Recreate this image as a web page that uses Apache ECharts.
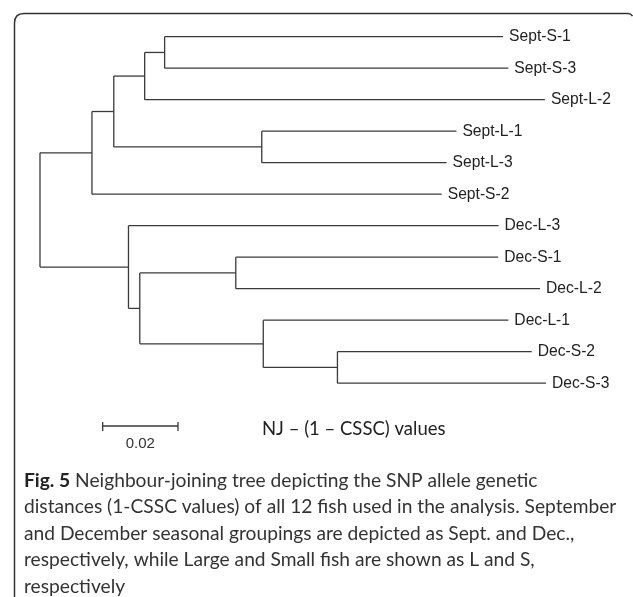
<!DOCTYPE html>
<html>
<head>
<meta charset="utf-8">
<script src="https://cdn.jsdelivr.net/npm/echarts@6/dist/echarts.min.js"></script>
<style>html,body{margin:0;padding:0;background:#fff;}#chart{width:633px;height:597px;}</style>
</head>
<body>
<div id="chart"></div>
<script>
// ---- Data ----
const leafNames = ['Sept-S-1','Sept-S-3','Sept-L-2','Sept-L-1','Sept-L-3','Sept-S-2','Dec-L-3','Dec-S-1','Dec-L-2','Dec-L-1','Dec-S-2','Dec-S-3'];
const internalIds = ['root','Sept','nA','nB','nC','nD','Dec','nF','nG','nH','nI'];
const internalParents = [null,'root','Sept','nA','nB','nA','root','Dec','nF','nF','nH'];
const internalLengths = [0,0.0138,0.0058,0.0082,0.0053,0.0393,0.0235,0.0030,0.0255,0.0328,0.0197];
const leafParents = ['nC','nC','nB','nD','nD','Sept','Dec','nG','nG','nH','nI','nI'];
const leafLengths = [0.0899,0.0913,0.1063,0.0517,0.0491,0.0929,0.0983,0.0697,0.0808,0.0651,0.0516,0.0554];
const scaleBarLength = 0.02;
const scaleBarLabel = '0.02';
const treeTitle = 'NJ \u2013 (1 \u2013 CSSC) values';
const captionBold = 'Fig. 5';
const captionLines = [
  ' Neighbour-joining tree depicting the SNP allele genetic',
  'distances (1-CSSC values) of all 12 fish used in the analysis. September',
  'and December seasonal groupings are depicted as Sept. and Dec.,',
  'respectively, while Large and Small fish are shown as L and S,',
  'respectively'
];

// ---- Build tree geometry (data units) ----
const nodes = {};
internalIds.forEach((id,i)=>{ nodes[id] = {id, parent: internalParents[i], len: internalLengths[i], leaf:false, children:[]}; });
leafNames.forEach((id,i)=>{ nodes[id] = {id, parent: leafParents[i], len: leafLengths[i], leaf:true, children:[], y:i}; });
Object.values(nodes).forEach(n=>{ if(n.parent) nodes[n.parent].children.push(n); });
function setX(n, px){ n.x = px + n.len; n.children.forEach(c=>setX(c, n.x)); }
setX(nodes.root, 0);
function setY(n){ if(n.leaf) return n.y; const ys = n.children.map(setY); n.yMin=Math.min(...ys); n.yMax=Math.max(...ys); n.y=(n.yMin+n.yMax)/2; return n.y; }
setY(nodes.root);
const treeData = Object.values(nodes).map(n=>[
  n.x, n.y, n.parent ? nodes[n.parent].x : n.x,
  n.leaf ? n.y : n.yMin, n.leaf ? n.y : n.yMax, n.leaf ? 1 : 0
]);
const treeNames = Object.values(nodes).map(n=>n.id);

const LINE = '#3a3a3a';
const CAP_FONT = '19.2px Lato, sans-serif';
const chart = echarts.init(document.getElementById('chart'), null, {renderer:'canvas'});
chart.setOption({
  animation:false,
  backgroundColor:'#fff',
  grid:{left:40, width:564.75, top:36.7, height:346.5},
  xAxis:{type:'value', min:0, max:0.15, show:false},
  yAxis:{type:'value', min:0, max:11, inverse:true, show:false},
  series:[{
    type:'custom',
    coordinateSystem:'cartesian2d',
    data: treeData,
    encode:{x:0, y:1},
    renderItem:function(params, api){
      const x = api.value(0), y = api.value(1), px = api.value(2);
      const y0 = api.value(3), y1 = api.value(4), leaf = api.value(5);
      const name = treeNames[params.dataIndex];
      const p = api.coord([x,y]), pp = api.coord([px,y]);
      const children = [];
      if (px !== x) children.push({type:'line', shape:{x1:pp[0],y1:pp[1],x2:p[0],y2:p[1]}, style:{stroke:LINE, lineWidth:1.3}});
      if (!leaf) {
        const a = api.coord([x,y0]), b = api.coord([x,y1]);
        children.push({type:'line', shape:{x1:a[0],y1:a[1],x2:b[0],y2:b[1]}, style:{stroke:LINE, lineWidth:1.3}});
      } else {
        children.push({type:'text', x:p[0]+6, y:p[1], scaleX:0.92, style:{text:name, fill:'#222', font:'17px "Liberation Sans", Arial, sans-serif', verticalAlign:'middle', align:'left'}});
      }
      return {type:'group', children:children};
    }
  },{
    type:'custom',
    coordinateSystem:'cartesian2d',
    data:[[0.01665, scaleBarLength]],
    encode:{x:0},
    renderItem:function(params, api){
      const s = api.value(0), l = api.value(1);
      const a = api.coord([s,0]), b = api.coord([s+l,0]);
      const yb = 426;
      return {type:'group', children:[
        {type:'line', shape:{x1:a[0],y1:yb,x2:b[0],y2:yb}, style:{stroke:LINE, lineWidth:1.3}},
        {type:'line', shape:{x1:a[0],y1:yb-4,x2:a[0],y2:yb+5}, style:{stroke:LINE, lineWidth:1.3}},
        {type:'line', shape:{x1:b[0],y1:yb-4,x2:b[0],y2:yb+5}, style:{stroke:LINE, lineWidth:1.3}},
        {type:'text', x:(a[0]+b[0])/2, y:444, style:{text:scaleBarLabel, fill:'#333', font:'15px "Liberation Sans", Arial, sans-serif', align:'center', verticalAlign:'middle'}}
      ]};
    }
  }],
  graphic:[
    {type:'line', shape:{x1:14.5,y1:597,x2:14.5,y2:23}, style:{stroke:'#333', lineWidth:1.5}},
    {type:'bezierCurve', shape:{x1:14.5,y1:23,cpx1:14.5,cpy1:13.5,x2:24,y2:13.5}, style:{stroke:'#333', lineWidth:1.5, fill:null}},
    {type:'line', shape:{x1:24,y1:13.5,x2:628,y2:13.5}, style:{stroke:'#333', lineWidth:1.5}},
    {type:'bezierCurve', shape:{x1:628,y1:13.5,cpx1:631,cpy1:13.5,x2:632.5,y2:16}, style:{stroke:'#333', lineWidth:1.5, fill:null}},
    {type:'text', x:262, y:429, style:{text:treeTitle, fill:'#222', font:'18.5px Lato, sans-serif', verticalAlign:'middle'}},
    {type:'text', x:24, y:480.6, style:{
      text:'{b|'+captionBold+'}{n|'+captionLines[0]+'}', verticalAlign:'middle',
      rich:{b:{font:'bold '+CAP_FONT, fill:'#222'}, n:{font:CAP_FONT, fill:'#333'}}
    }}
  ].concat(captionLines.slice(1).map((t,i)=>({type:'text', x:24, y:507.1+26.5*i, style:{text:t, fill:'#333', font:CAP_FONT, verticalAlign:'middle'}})))
});
</script>
</body>
</html>
